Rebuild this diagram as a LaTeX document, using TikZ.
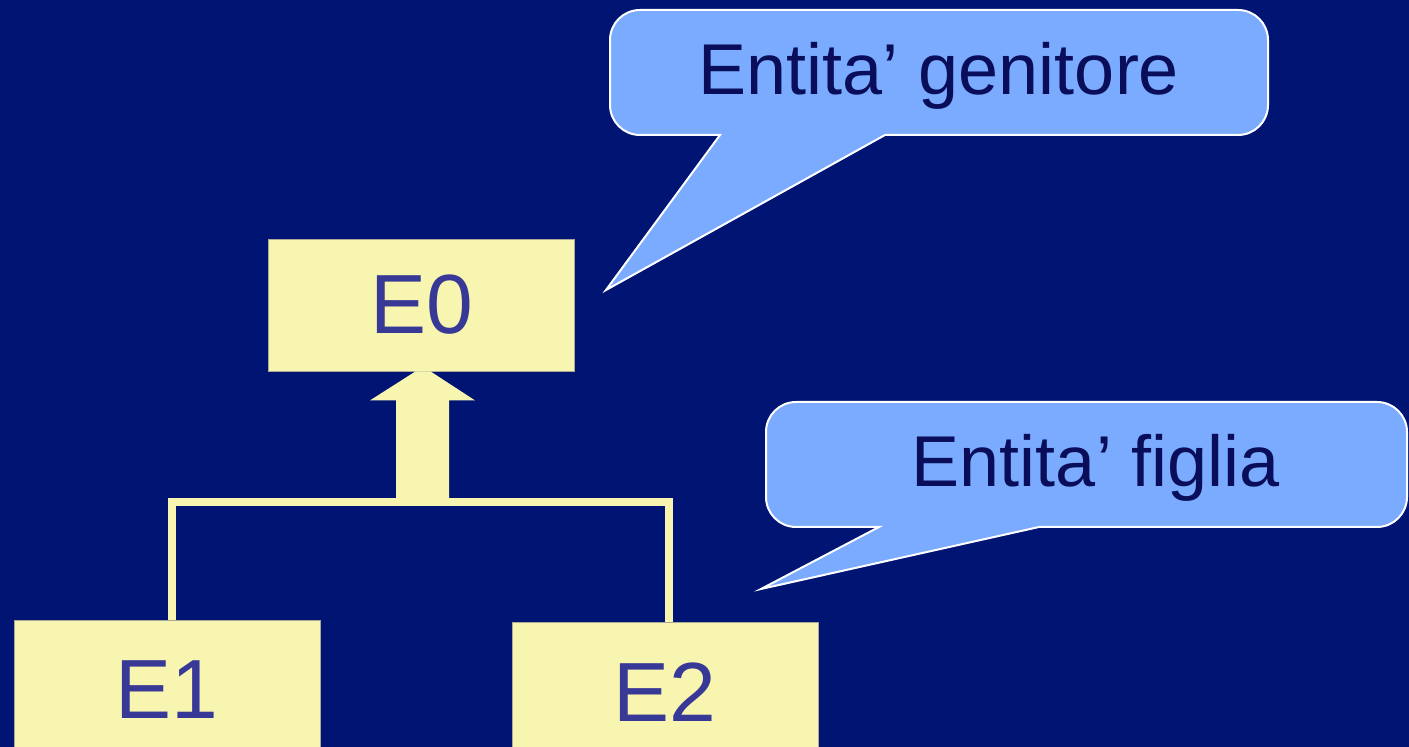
\documentclass[tikz,border=0pt]{standalone}
\usepackage{fontspec}
\setmainfont{Liberation Sans}
\definecolor{bg}{RGB}{0,20,115}
\definecolor{boxfill}{RGB}{247,245,176}
\definecolor{boxedge}{RGB}{170,168,150}
\definecolor{calloutfill}{RGB}{122,171,255}
\definecolor{callouttext}{RGB}{10,14,90}
\definecolor{entitytext}{RGB}{56,56,150}
\begin{document}
\begin{tikzpicture}[x=0.5pt,y=-0.5pt,
  entity/.style={fill=boxfill, draw=boxedge, line width=0.4pt, inner sep=0pt,
    minimum width=153pt, text=entitytext, font=\fontsize{42}{42}\selectfont},
  link/.style={draw=boxfill, line width=4pt, line join=miter},
  callout/.style={fill=calloutfill, draw=white, line width=1pt, line join=miter},
  calloutlabel/.style={anchor=base, inner sep=0pt, text=callouttext,
    font=\fontsize{36}{36}\selectfont}]
  % canvas
  \useasboundingbox (0,0) rectangle (1409,747);
  \fill[bg] (0,0) rectangle (1409,747);
  \clip (0,0) rectangle (1409,747);

  % entities
  \node[entity, minimum height=66pt] (e0) at (421.5,305) {E0};
  \node[entity, minimum height=70pt] (e1) at (167,690) {E1};
  \node[entity, minimum height=70pt] (e2) at (665,692) {E2};

  % generalisation bracket joining the children
  \coordinate (j1) at (172,502);
  \coordinate (j2) at (669,502);
  \draw[link] (e1.north -| j1) -- (j1) -- (j2) -- (e2.north -| j2);

  % block arrow pointing to the parent
  \fill[boxfill, shift={(e0.south)}]
    (-25.5,130) -- (-25.5,29) -- (-51.5,29) -- (-6,0) -- (9,0)
    -- (53.5,29) -- (27.5,29) -- (27.5,130) -- cycle;

  % callout for the parent entity
  \draw[callout] (939,10) [rounded corners=15] -- (610,10) -- (610,135)
    [sharp corners] -- (720,135) -- (606,290) -- (885,135)
    [rounded corners=15] -- (1268,135) -- (1268,10) -- cycle;
  \node[calloutlabel] (gen) at (939,95) {Entita’ genitore};

  % callout for the child entities
  \draw[callout] (1100,402) [rounded corners=15] -- (766,402) -- (766,527)
    [sharp corners] -- (879,527) -- (761,589) -- (1039,527)
    [rounded corners=15] -- (1407,527) -- (1407,402) -- cycle;
  \node[calloutlabel] (fig) at (1096,487) {Entita’ figlia};
\end{tikzpicture}
\end{document}
